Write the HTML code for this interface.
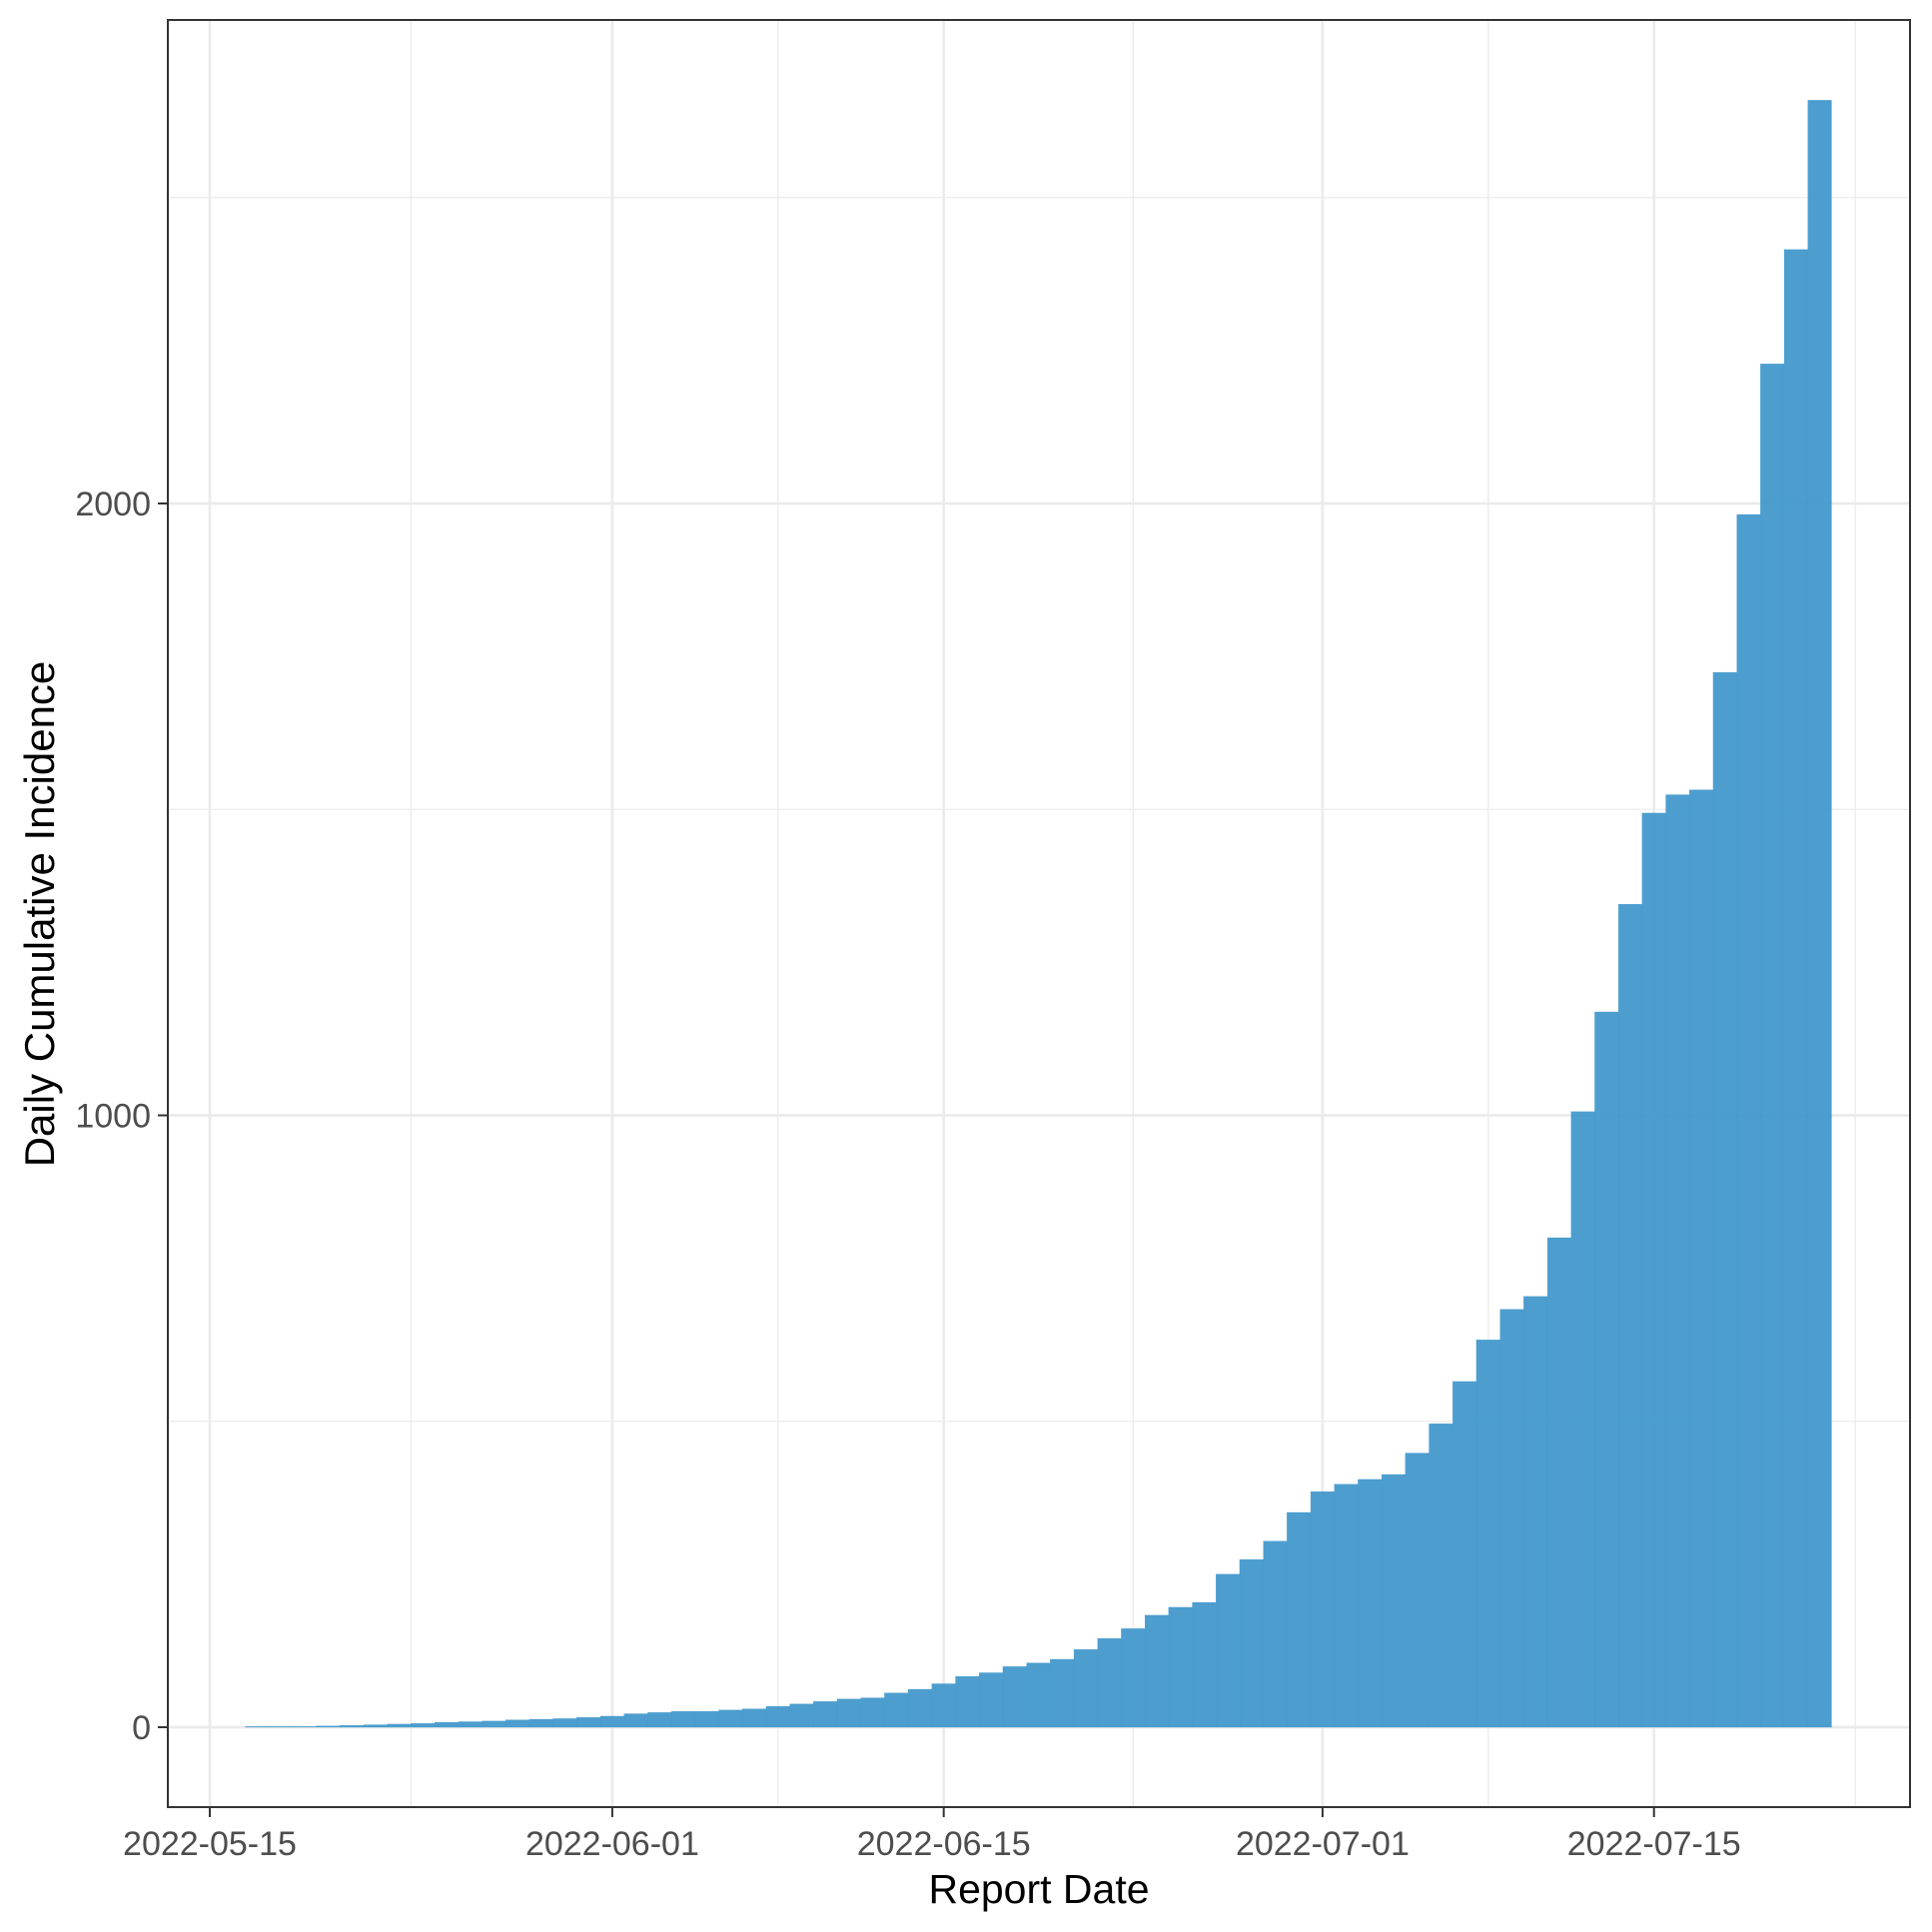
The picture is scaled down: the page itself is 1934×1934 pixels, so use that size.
<!DOCTYPE html>
<html><head><meta charset="utf-8"><style>
html,body{margin:0;padding:0;background:#fff;}
svg{display:block;font-family:"Liberation Sans",Arial,sans-serif;}
</style></head><body>
<svg id="chart" width="1934" height="1934" viewBox="0 0 1934 1934">
<g id="grid"></g>
<g id="bars"></g>
<rect x="168" y="20" width="1744" height="1789" fill="none" stroke="#333" stroke-width="2"/>
<g id="axes"></g>
<text x="1040" y="1905" text-anchor="middle" font-size="41" fill="#000">Report Date</text>
<text transform="translate(54,915) rotate(-90)" text-anchor="middle" font-size="42" fill="#000">Daily Cumulative Incidence</text>
</svg>
<script>
// day offsets from 2022-05-15
const days = [];
for (let d = 2; d <= 68; d++) days.push(d);
const values = [1,1,1,2,3,4,5,6,8,9,10,12,13,14,16,18,22,24,26,26,28,30,34,38,42,46,48,56,62,71,83,89,99,105,111,127,145,161,183,196,204,250,274,304,351,385,397,405,413,448,496,565,633,683,704,800,1006,1169,1345,1494,1524,1532,1724,1982,2228,2415,2659];
const xTickLabels = ["2022-05-15","2022-06-01","2022-06-15","2022-07-01","2022-07-15"];
const xTickDays = [0,17,31,47,61];
const xMinorDays = [8.5,24,39,54,69.5];
const yTicks = [0,1000,2000];
const yMinor = [500,1500,2500];

const X0 = 210, PXDAY = 23.7, Y0 = 1729, PXUNIT = 0.6125;
const L = 168, R = 1912, T = 20, B = 1809;
const xs = d => X0 + d * PXDAY;
const ys = v => Y0 - v * PXUNIT;
const NS = "http://www.w3.org/2000/svg";
function mk(tag, attrs, parent) {
  const e = document.createElementNS(NS, tag);
  for (const k in attrs) e.setAttribute(k, attrs[k]);
  parent.appendChild(e);
  return e;
}
const grid = document.getElementById('grid');
const barsG = document.getElementById('bars');
const axes = document.getElementById('axes');

yMinor.forEach(v => {
  const l = mk('line', {x1: L, x2: R, y1: ys(v), y2: ys(v), stroke: '#ebebeb', 'stroke-width': 1.3}, grid);
  
  
});
xMinorDays.forEach(d => {
  const l = mk('line', {x1: xs(d), x2: xs(d), y1: T, y2: B, stroke: '#ebebeb', 'stroke-width': 1.3}, grid);
  
  
});
yTicks.forEach(v => {
  const l = mk('line', {x1: L, x2: R, y1: ys(v), y2: ys(v), stroke: '#ebebeb', 'stroke-width': 2.7}, grid);
  
  
});
xTickDays.forEach(d => {
  const l = mk('line', {x1: xs(d), x2: xs(d), y1: T, y2: B, stroke: '#ebebeb', 'stroke-width': 2.7}, grid);
  
  
});

days.forEach((d, i) => {
  const v = values[i];
  const r = mk('rect', {x: xs(d - 0.5), width: PXDAY, y: ys(v), height: Y0 - ys(v), fill: '#3f97cb', 'fill-opacity': 0.93, stroke: '#3f97cb', 'stroke-width': 0.3}, barsG);
  
  
});

yTicks.forEach(v => {
  const t = mk('line', {x1: L - 10, x2: L, y1: ys(v), y2: ys(v), stroke: '#333', 'stroke-width': 2}, axes);
  
  
  const tx = mk('text', {x: L - 17, y: ys(v) + 12, 'text-anchor': 'end', 'font-size': 34, fill: '#4d4d4d'}, axes);
  tx.textContent = v;
  
  
});
xTickDays.forEach((d, i) => {
  const t = mk('line', {x1: xs(d), x2: xs(d), y1: B, y2: B + 10, stroke: '#333', 'stroke-width': 2}, axes);
  
  
  const tx = mk('text', {x: xs(d), y: B + 48, 'text-anchor': 'middle', 'font-size': 34, fill: '#4d4d4d'}, axes);
  tx.textContent = xTickLabels[i];
  
  
});
</script>
</body></html>
